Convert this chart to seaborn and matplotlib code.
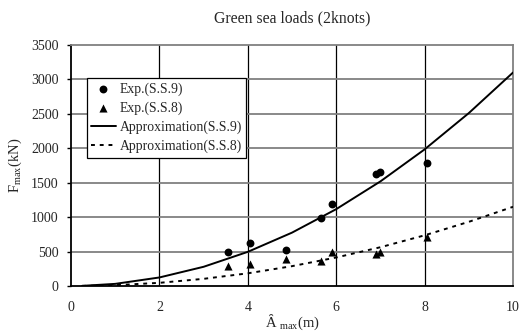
import matplotlib
matplotlib.use("Agg")
import matplotlib.pyplot as plt
import seaborn as sns
import pandas as pd

# Measured green sea loads
exp_x = [3.55, 4.05, 4.86, 5.66, 5.90, 6.90, 6.98, 8.06]
exp_ss9 = [498, 629, 522, 982, 1185, 1625, 1650, 1780]
exp_ss8 = [290, 319, 396, 358, 498, 469, 498, 716]

# Approximation curves
approx_x = [0.25, 1, 2, 3, 4, 5, 6, 7, 8, 9, 10]
approx_ss9 = [2, 31, 124, 279, 496, 775, 1116, 1519, 1984, 2511, 3100]
approx_ss8 = [1, 12, 46, 104, 184, 288, 414, 563, 736, 932, 1150]

title = "Green sea loads (2knots)"
xticks = [0, 2, 4, 6, 8, 10]
yticks = [0, 500, 1000, 1500, 2000, 2500, 3000, 3500]

sns.set_theme(style="white")
plt.rcParams["font.family"] = ["Liberation Serif", "DejaVu Serif"]
plt.rcParams["mathtext.fontset"] = "custom"
plt.rcParams["mathtext.rm"] = "Liberation Serif"

fig = plt.figure(figsize=(5.22, 3.31), dpi=100)
ax = fig.add_axes([71 / 522, 45 / 331, 442 / 522, 241 / 331])

df_exp = pd.DataFrame({"x": exp_x, "ss9": exp_ss9, "ss8": exp_ss8})
df_app = pd.DataFrame({"x": approx_x, "ss9": approx_ss9, "ss8": approx_ss8})

sns.scatterplot(data=df_exp, x="x", y="ss9", ax=ax, marker="o", color="black",
                s=32, edgecolor="black", linewidth=0, label="Exp.(S.S.9)", zorder=4)
sns.scatterplot(data=df_exp, x="x", y="ss8", ax=ax, marker="^", color="black",
                s=34, edgecolor="black", linewidth=0, label="Exp.(S.S.8)", zorder=4)
sns.lineplot(data=df_app, x="x", y="ss9", ax=ax, color="black", linewidth=1.4,
             label="Approximation(S.S.9)", zorder=3)
sns.lineplot(data=df_app, x="x", y="ss8", ax=ax, color="black", linewidth=1.4,
             linestyle=(0, (2.0, 2.5)), label="Approximation(S.S.8)", zorder=3)

ax.set_xlim(0, 10)
ax.set_ylim(0, 3500)
ax.set_xticks(xticks)
ax.set_yticks(yticks)
ax.set_xticklabels([str(v) for v in xticks], fontsize=10)
ax.set_yticklabels([str(v) for v in yticks], fontsize=10)
ax.tick_params(axis="y", which="both", left=True, length=3, width=1, color="black", pad=6)
ax.tick_params(axis="x", which="both", bottom=False, length=0, pad=11)

for v in xticks[1:-1]:
    ax.axvline(v, color="black", linewidth=0.9, zorder=1)
for v in yticks[1:-1]:
    ax.axhline(v, color="#808080", linewidth=1.3, zorder=1)

for side in ["top", "right"]:
    ax.spines[side].set_color("#808080")
    ax.spines[side].set_linewidth(1.3)
for side in ["left", "bottom"]:
    ax.spines[side].set_color("black")
    ax.spines[side].set_linewidth(1.3)

ax.set_title(title, fontsize=11.3, pad=16)
ax.set_xlabel("Ȃ $_{\\mathrm{max}}$(m)", fontsize=10.5, va="center")
ax.xaxis.set_label_coords(0.5, -0.15)
ax.set_ylabel("F$_{\\mathrm{max}}$(kN)", fontsize=10.5, labelpad=5)

leg = ax.legend(loc="upper left", bbox_to_anchor=(0.036, 0.863), fontsize=9.9,
                frameon=True, fancybox=False, edgecolor="black", framealpha=1,
                borderpad=0.3, handlelength=1.8, handletextpad=0.3,
                labelspacing=0.42, borderaxespad=0)
leg.get_frame().set_linewidth(0.9)

fig.savefig("out.png", dpi=100)
